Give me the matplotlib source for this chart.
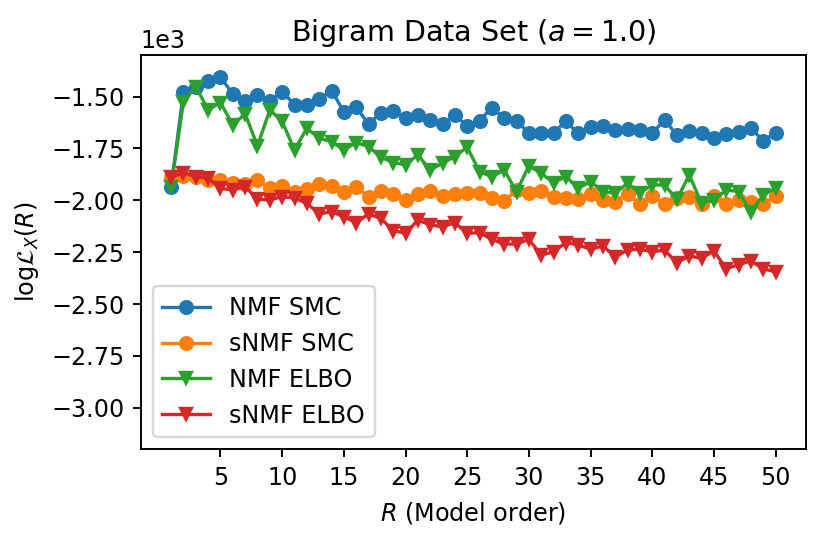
import matplotlib
matplotlib.use('Agg')
import matplotlib.pyplot as plt
import numpy as np

# model orders
R = np.arange(1, 51)

# log-likelihood values
nmf_smc = [-1934, -1476, -1452, -1423, -1406, -1488, -1521, -1492, -1521, -1476,
           -1540, -1543, -1513, -1471, -1572, -1551, -1633, -1577, -1571, -1604,
           -1588, -1612, -1632, -1590, -1641, -1616, -1553, -1604, -1620, -1674,
           -1674, -1674, -1620, -1677, -1645, -1641, -1661, -1657, -1661, -1677,
           -1612, -1685, -1664, -1677, -1701, -1682, -1669, -1653, -1713, -1674]

snmf_smc = [-1886, -1882, -1889, -1902, -1902, -1918, -1921, -1902, -1942, -1931,
            -1958, -1947, -1923, -1931, -1958, -1934, -1985, -1953, -1969, -1998,
            -1969, -1953, -1977, -1969, -1963, -1963, -1990, -2003, -1950, -1966,
            -1953, -1982, -1987, -1995, -1969, -1998, -2006, -1969, -2018, -1979,
            -2018, -1990, -1985, -2018, -1979, -2018, -2000, -2010, -2018, -1979]

nmf_elbo = [-1934, -1524, -1452, -1564, -1529, -1637, -1583, -1738, -1564, -1620,
            -1757, -1653, -1701, -1717, -1757, -1722, -1741, -1792, -1818, -1829,
            -1781, -1854, -1821, -1789, -1744, -1862, -1886, -1854, -1958, -1834,
            -1870, -1915, -1886, -1942, -1910, -1958, -1966, -1918, -1963, -1926,
            -1926, -1995, -1878, -2014, -1998, -1950, -1958, -2055, -1974, -1942]

snmf_elbo = [-1889, -1867, -1886, -1894, -1942, -1950, -1934, -1995, -1998, -1982,
             -1990, -2014, -2066, -2055, -2079, -2108, -2066, -2087, -2146, -2159,
             -2095, -2119, -2127, -2108, -2159, -2156, -2188, -2211, -2211, -2188,
             -2264, -2248, -2204, -2215, -2236, -2220, -2272, -2240, -2236, -2248,
             -2240, -2301, -2268, -2280, -2243, -2330, -2310, -2292, -2330, -2345]


def main():
    dpi = 172
    fig, ax = plt.subplots(figsize=(829 / dpi, 540 / dpi), dpi=dpi)
    fig.subplots_adjust(left=0.170, right=0.972, top=0.898, bottom=0.168)

    style = dict(linewidth=1.4, markersize=5.3)
    ax.plot(R, nmf_smc, 'o-', color='C0', label='NMF SMC', **style)
    ax.plot(R, snmf_smc, 'o-', color='C1', label='sNMF SMC', **style)
    ax.plot(R, nmf_elbo, 'v-', color='C2', label='NMF ELBO', **style)
    ax.plot(R, snmf_elbo, 'v-', color='C3', label='sNMF ELBO', **style)

    ax.set_ylim(-3200, -1300)
    ax.set_xticks(np.arange(5, 51, 5))
    ax.ticklabel_format(axis='y', style='sci', scilimits=(3, 3))
    ax.set_title(r'Bigram Data Set ($a = 1.0$)')
    ax.set_xlabel(r'$R$ (Model order)')
    ax.set_ylabel(r'$\mathrm{log}\mathcal{L}_X(R)$')
    ax.legend(loc='lower left')

    fig.savefig('out.png', dpi=dpi)


if __name__ == '__main__':
    main()
